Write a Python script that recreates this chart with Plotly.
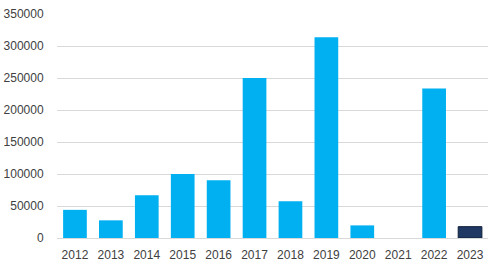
import plotly.graph_objects as go

years = ["2012", "2013", "2014", "2015", "2016", "2017", "2018", "2019", "2020", "2021", "2022", "2023"]
values = [44000, 27600, 66800, 100000, 90300, 250000, 57400, 313500, 19700, 0, 233500, 17700]
bar_colors = ["#00B0F0"] * 11 + ["#203864"]
line_widths = [0] * 11 + [1]
y_ticks = [0, 50000, 100000, 150000, 200000, 250000, 300000, 350000]

fig = go.Figure(go.Bar(
    x=years, y=values,
    marker=dict(color=bar_colors, line=dict(color="#0F1F3A", width=line_widths)),
    width=0.66,
))

fig.update_layout(
    width=497, height=267,
    margin=dict(l=57, r=9, t=14, b=29, autoexpand=False),
    paper_bgcolor="white", plot_bgcolor="white",
    font=dict(family="Liberation Sans, Arial, sans-serif", size=12, color="#404040"),
    showlegend=False,
)
fig.update_xaxes(
    type="category", showgrid=False, showline=False, automargin=False,
    ticks="outside", ticklen=6, tickcolor="rgba(0,0,0,0)",
    tickfont=dict(size=12, color="#404040"),
)
fig.update_yaxes(
    range=[0, 350000], tickvals=y_ticks, ticktext=[str(v) for v in y_ticks],
    showgrid=True, gridcolor="#D9D9D9", gridwidth=1, automargin=False,
    zeroline=True, zerolinecolor="#D9D9D9", zerolinewidth=1,
    showline=False,
    ticks="outside", ticklen=10, tickcolor="rgba(0,0,0,0)",
    tickfont=dict(size=12, color="#404040"),
)

fig.write_html("out.html")
